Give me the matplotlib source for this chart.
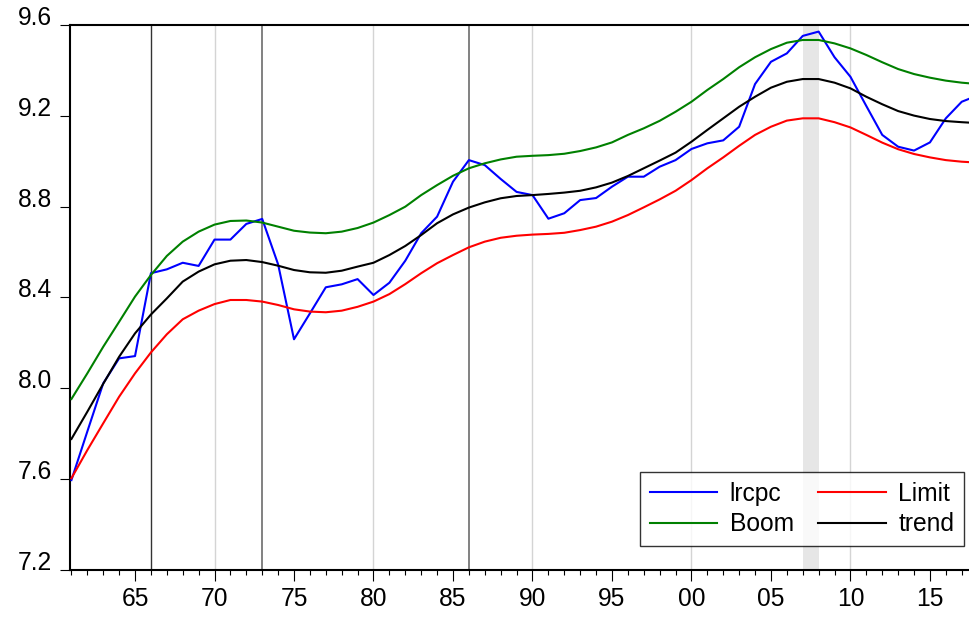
import matplotlib
matplotlib.use("Agg")
import matplotlib.pyplot as plt
from matplotlib.ticker import FixedLocator, MultipleLocator, FuncFormatter

plt.rcParams["font.family"] = ["Liberation Sans", "DejaVu Sans"]

years = list(range(1961, 2019))

lrcpc = [7.596, 7.81, 8.022, 8.132, 8.142, 8.507, 8.524, 8.553, 8.539, 8.655,
         8.655, 8.724, 8.746, 8.546, 8.216, 8.33, 8.445, 8.458, 8.481, 8.411,
         8.465, 8.562, 8.683, 8.756, 8.910, 9.005, 8.983, 8.922, 8.865, 8.851,
         8.747, 8.771, 8.829, 8.838, 8.888, 8.932, 8.932, 8.976, 9.005, 9.054,
         9.079, 9.092, 9.152, 9.340, 9.438, 9.475, 9.552, 9.571, 9.458, 9.372,
         9.243, 9.116, 9.064, 9.047, 9.083, 9.189, 9.262, 9.29]

boom = [7.953, 8.066, 8.183, 8.293, 8.404, 8.499, 8.583, 8.646, 8.690, 8.721,
        8.737, 8.739, 8.730, 8.712, 8.694, 8.686, 8.683, 8.690, 8.706, 8.730,
        8.763, 8.800, 8.851, 8.895, 8.936, 8.969, 8.991, 9.008, 9.020, 9.024,
        9.027, 9.033, 9.045, 9.061, 9.083, 9.116, 9.145, 9.178, 9.218, 9.262,
        9.314, 9.362, 9.414, 9.458, 9.494, 9.522, 9.534, 9.534, 9.519, 9.497,
        9.468, 9.436, 9.406, 9.384, 9.368, 9.355, 9.346, 9.340]

limit = [7.604, 7.728, 7.846, 7.963, 8.066, 8.158, 8.238, 8.304, 8.342, 8.371,
         8.389, 8.389, 8.382, 8.367, 8.348, 8.338, 8.335, 8.342, 8.359, 8.382,
         8.415, 8.459, 8.507, 8.551, 8.587, 8.621, 8.646, 8.663, 8.672, 8.677,
         8.680, 8.685, 8.697, 8.712, 8.734, 8.763, 8.797, 8.832, 8.870, 8.917,
         8.969, 9.017, 9.068, 9.116, 9.152, 9.179, 9.189, 9.189, 9.172, 9.149,
         9.116, 9.082, 9.053, 9.032, 9.017, 9.005, 8.998, 8.994]

trend = [7.777, 7.897, 8.020, 8.139, 8.242, 8.325, 8.396, 8.470, 8.514, 8.546,
         8.562, 8.565, 8.556, 8.540, 8.521, 8.511, 8.509, 8.518, 8.536, 8.553,
         8.587, 8.627, 8.675, 8.727, 8.766, 8.796, 8.819, 8.837, 8.847, 8.851,
         8.856, 8.862, 8.870, 8.885, 8.906, 8.935, 8.969, 9.003, 9.038, 9.086,
         9.138, 9.189, 9.240, 9.284, 9.324, 9.350, 9.362, 9.362, 9.346, 9.321,
         9.284, 9.251, 9.221, 9.201, 9.186, 9.177, 9.172, 9.168]

break_years = [1966, 1973, 1986]
grid_years = [1970, 1980, 1990, 2000, 2010]
crisis_span = (2007, 2008)
y_ticks = [7.2, 7.6, 8.0, 8.4, 8.8, 9.2, 9.6]
x_label_years = [1965, 1970, 1975, 1980, 1985, 1990, 1995, 2000, 2005, 2010, 2015]

FS = 17.7

fig = plt.figure(figsize=(9.70, 6.17), dpi=100)
ax = fig.add_axes([70 / 970, 47 / 617, 900 / 970, 545 / 617])

ax.axvspan(*crisis_span, color="#e6e6e6", lw=0, zorder=0)
for g in grid_years:
    ax.axvline(g, color="#d4d4d4", lw=1.0, zorder=1)
ax.axvline(break_years[0], color="#333333", lw=1.0, zorder=1)
for b in break_years[1:]:
    ax.axvline(b, color="#777777", lw=1.3, zorder=1)

ax.plot(years, lrcpc, color="#0000ff", lw=1.5, label="lrcpc", zorder=3)
ax.plot(years, boom, color="#008000", lw=1.5, label="Boom", zorder=3)
ax.plot(years, limit, color="#ff0000", lw=1.5, label="Limit", zorder=3)
ax.plot(years, trend, color="#000000", lw=1.5, label="trend", zorder=3)

ax.set_xlim(1960.91, 2017.52)
ax.set_ylim(7.2, 9.6)

ax.yaxis.set_major_locator(FixedLocator(y_ticks))
ax.yaxis.set_major_formatter(FuncFormatter(lambda v, p: f"{v:.1f}"))
ax.xaxis.set_major_locator(FixedLocator(x_label_years))
ax.xaxis.set_minor_locator(MultipleLocator(1))
ax.xaxis.set_major_formatter(FuncFormatter(lambda v, p: f"{int(round(v)) % 100:02d}"))

ax.tick_params(axis="y", which="major", direction="out", length=7.2, width=0.8,
               pad=6, labelsize=FS, colors="black")
ax.tick_params(axis="x", which="major", direction="out", length=7.6, width=0.8,
               pad=5, labelsize=FS)
ax.tick_params(axis="x", which="minor", direction="out", length=3.8, width=0.8)
for lab in ax.get_yticklabels():
    lab.set_verticalalignment("baseline")

for side in ("left", "top", "bottom"):
    ax.spines[side].set_linewidth(1.5)
    ax.spines[side].set_color("black")
ax.spines["right"].set_visible(False)

leg = ax.legend(loc="lower right", bbox_to_anchor=(0.9933, 0.044), borderaxespad=0,
                ncol=2, fontsize=FS, handlelength=2.75, handletextpad=0.5,
                columnspacing=1.0, labelspacing=0.25, frameon=True, fancybox=False,
                borderpad=0.4)
leg.get_frame().set_edgecolor("black")
leg.get_frame().set_linewidth(1.0)
leg.set_zorder(5)

fig.savefig("out.png", dpi=100)
